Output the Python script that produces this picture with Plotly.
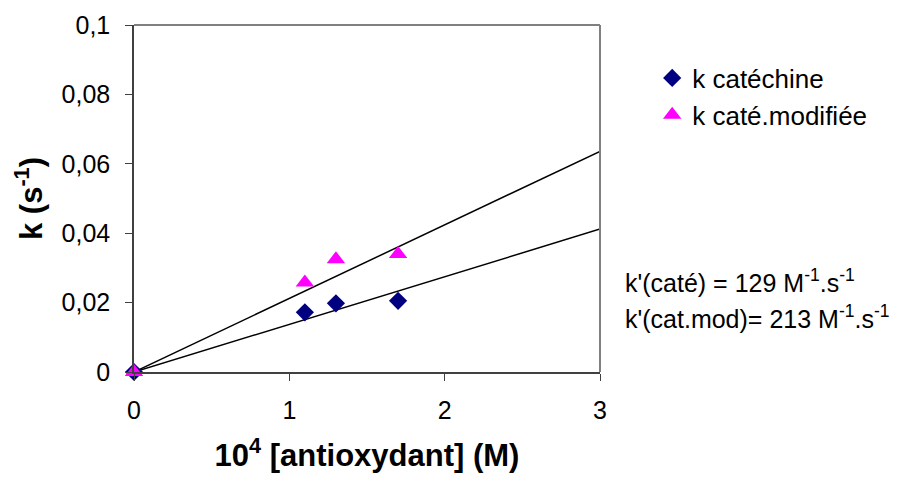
import plotly.graph_objects as go

# concentrations (10^4 [antioxydant], M)
conc = [0, 1.1, 1.3, 1.7]
k_catechine = [0, 0.0172, 0.0198, 0.0205]
k_cate_mod = [0, 0.0258, 0.0325, 0.034]

# trendlines through origin (slope)
fit_x = [0, 3]
slope_cat = 0.01373
slope_mod = 0.0212

fig = go.Figure()

for slope in [slope_cat, slope_mod]:
    fig.add_trace(go.Scatter(
        x=fit_x, y=[slope * v for v in fit_x], mode="lines",
        line=dict(color="black", width=1.5), showlegend=False, hoverinfo="skip"
    ))

fig.add_trace(go.Scatter(
    x=conc, y=k_catechine, mode="markers", name="k catéchine",
    marker=dict(symbol="diamond", color="#000080", size=14), cliponaxis=False
))
fig.add_trace(go.Scatter(
    x=conc, y=k_cate_mod, mode="markers", name="k caté.modifiée",
    marker=dict(symbol="triangle-up", color="#FF00FF", size=16), cliponaxis=False
))

title_font = dict(size=31, family="Liberation Sans", color="black", weight="bold")

fig.update_xaxes(
    range=[0, 3], dtick=1, showgrid=False, zeroline=False, automargin=True,
    showline=True, linecolor="#404040", linewidth=1.5,
    ticks="outside", ticklen=7, tickcolor="#404040", ticklabelstandoff=8,
    title=dict(text="10<sup>4</sup> [antioxydant] (M)", font=title_font, standoff=28)
)
fig.update_yaxes(
    range=[0, 0.1], dtick=0.02, showgrid=False, zeroline=False, automargin=True,
    showline=True, linecolor="#404040", linewidth=1.5,
    ticks="outside", ticklen=7, tickcolor="#404040", ticklabelstandoff=10,
    title=dict(text="k (s<sup>-1</sup>)", font=title_font, standoff=10)
)

# grey frame on top and right
fig.add_shape(type="line", xref="x domain", yref="y domain", x0=0, x1=1, y0=1, y1=1,
              line=dict(color="#808080", width=2))
fig.add_shape(type="line", xref="x domain", yref="y domain", x0=1, x1=1, y0=0, y1=1,
              line=dict(color="#808080", width=2))

fig.add_annotation(xref="paper", yref="paper", x=1.05, y=0.211, xanchor="left",
                   text="k'(caté) = 129 M<sup>-1</sup>.s<sup>-1</sup>", showarrow=False,
                   font=dict(size=25))
fig.add_annotation(xref="paper", yref="paper", x=1.05, y=0.108, xanchor="left",
                   text="k'(cat.mod)= 213 M<sup>-1</sup>.s<sup>-1</sup>", showarrow=False,
                   font=dict(size=25))

fig.update_layout(
    width=882, height=465,
    margin=dict(l=126, r=290, t=17, b=101, autoexpand=False),
    paper_bgcolor="white", plot_bgcolor="white",
    separators=", ",
    font=dict(family="Liberation Sans", size=25, color="black"),
    legend=dict(x=1.112, y=0.915, xanchor="left", yanchor="top",
                font=dict(size=26), itemwidth=30, tracegroupgap=0,
                bgcolor="rgba(0,0,0,0)"),
)

fig.write_html("out.html")
